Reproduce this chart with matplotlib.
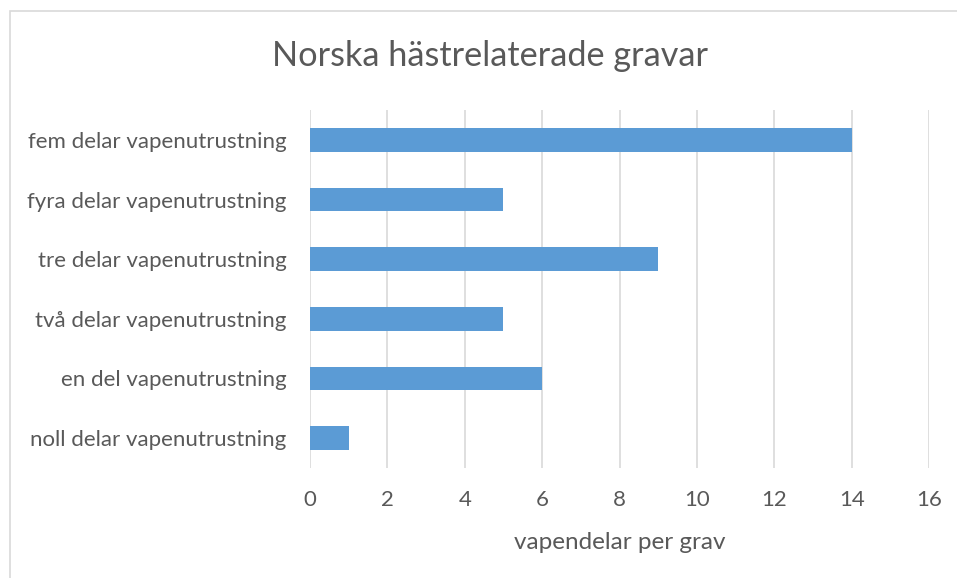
import matplotlib
matplotlib.use("Agg")
import matplotlib.pyplot as plt
from matplotlib.patches import Rectangle

# data, bottom to top as in the chart
categories = ["noll delar vapenutrustning", "en del vapenutrustning",
              "två delar vapenutrustning", "tre delar vapenutrustning",
              "fyra delar vapenutrustning", "fem delar vapenutrustning"]
values = [1, 6, 5, 9, 5, 14]
xticks = [0, 2, 4, 6, 8, 10, 12, 14, 16]

textcol = "#595959"
plt.rcParams['font.family'] = ['Lato', 'DejaVu Sans']

W, H = 957, 578
fig = plt.figure(figsize=(W / 100, H / 100), dpi=100)
ax = fig.add_axes([310 / W, 1 - 468 / H, 619 / W, 358 / H])

ax.barh(range(len(categories)), values, height=0.4, color="#5B9BD5", zorder=3)
ax.set_xlim(0, 16)
ax.set_ylim(-0.5, len(categories) - 0.5)
ax.set_xticks(xticks)
ax.set_yticks(range(len(categories)))
ax.set_yticklabels(categories)
ax.grid(axis="x", color="#D9D9D9", linewidth=1.2, zorder=0)
for s in ax.spines.values():
    s.set_visible(False)
ax.tick_params(length=0, labelsize=16, colors=textcol)
ax.tick_params(axis="x", pad=16)
ax.tick_params(axis="y", pad=17)
ax.set_xlabel("vapendelar per grav", fontsize=17.5, color=textcol, labelpad=16)

fig.text(490 / W, 1 - 56 / H, "Norska hästrelaterade gravar", ha="center", va="center",
         fontsize=24.7, color=textcol)

# chart area border (Excel style)
fig.patches.append(Rectangle((10 / W, -0.1), 1.2, 1 - 11 / H + 0.1, transform=fig.transFigure,
                             fill=False, edgecolor="#D9D9D9", linewidth=1.2))

fig.savefig("out.png", dpi=100, facecolor="white")
